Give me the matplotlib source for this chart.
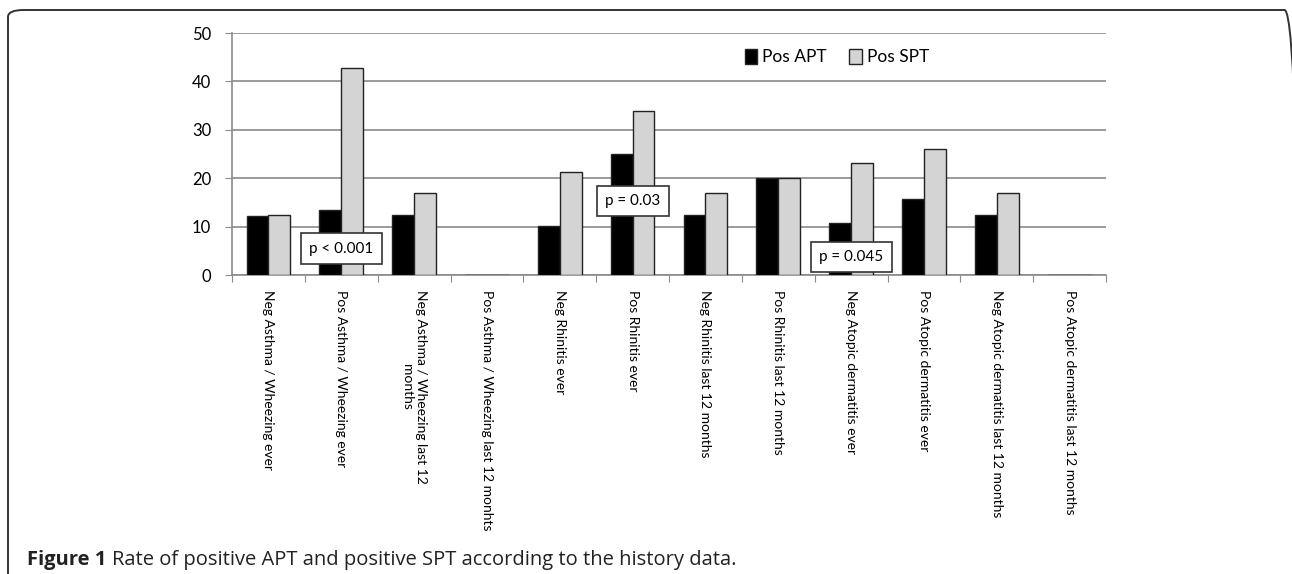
import numpy as np
import matplotlib
matplotlib.use("Agg")
import matplotlib.pyplot as plt
from matplotlib.patches import FancyBboxPatch

# Categories from the history data
categories = [
    "Neg Asthma / Wheezing ever",
    "Pos Asthma / Wheezing ever",
    "Neg Asthma / Wheezing last 12\nmonths",
    "Pos Asthma / Wheezing last 12 monhts",
    "Neg Rhinitis ever",
    "Pos Rhinitis ever",
    "Neg Rhinitis last 12 months",
    "Pos Rhinitis last 12 months",
    "Neg Atopic dermatitis ever",
    "Pos Atopic dermatitis ever",
    "Neg Atopic dermatitis last 12 months",
    "Pos Atopic dermatitis last 12 months",
]
pos_apt = [12.2, 13.4, 12.5, 0, 10.1, 25.1, 12.5, 20.0, 10.7, 15.7, 12.5, 0]
pos_spt = [12.5, 42.8, 17.0, 0, 21.3, 33.8, 17.0, 20.0, 23.1, 26.0, 17.0, 0]

# p-value notes: category index, height, text
p_index = [1, 5, 8]
p_height = [5.4, 15.3, 3.7]
p_text = ["p < 0.001", "p = 0.03", "p = 0.045"]

plt.rcParams['font.family'] = ['Lato', 'DejaVu Sans']

fig = plt.figure(figsize=(12.92, 5.74), dpi=100)
ax = fig.add_axes([0.1796, 0.5209, 0.6765, 0.4216])

x = np.arange(len(categories))
w = 0.3
ax.bar(x - w / 2, pos_apt, w, color='black', edgecolor='#222222', linewidth=1, label='Pos APT', zorder=3)
ax.bar(x + w / 2, pos_spt, w, color='#d4d4d4', edgecolor='#222222', linewidth=1, label='Pos SPT', zorder=3)

ax.set_xlim(-0.5, len(categories) - 0.5)
ax.set_ylim(0, 50)
ax.set_yticks([0, 10, 20, 30, 40, 50])
ax.yaxis.grid(True, color='#8a8a8a', linewidth=1.2, zorder=0)
ax.tick_params(axis='y', labelsize=12, length=5, color='#8a8a8a', pad=10)

# tick marks on category boundaries, labels in the middle
ax.set_xticks(np.arange(len(categories) + 1) - 0.5)
ax.set_xticklabels([])
ax.set_xticks(x, minor=True)
ax.set_xticklabels(categories, minor=True, rotation=-90, fontsize=10,
                   va='top', ha='center', multialignment='center')
ax.tick_params(axis='x', which='major', length=5, color='#8a8a8a')
ax.tick_params(axis='x', which='minor', length=0, pad=11)

for side in ['top', 'right']:
    ax.spines[side].set_visible(False)
for side in ['left', 'bottom']:
    ax.spines[side].set_color('#8a8a8a')
    ax.spines[side].set_linewidth(1.2)

ax.legend(loc='center', bbox_to_anchor=(0.692, 0.90), ncol=2, frameon=False,
          fontsize=12.5, handlelength=0.7, handleheight=0.9, handletextpad=0.3,
          columnspacing=1.3)

for i, h, t in zip(p_index, p_height, p_text):
    ax.text(i, h, t, ha='center', va='center', fontsize=11, zorder=5,
            bbox=dict(boxstyle='square,pad=0.55', facecolor='white', edgecolor='#333333', linewidth=1.2))

# outer frame (rounded, open at the bottom of the crop)
frame = FancyBboxPatch((8 / 1292, -0.05), 1.0, 1.05 - 10 / 574,
                       boxstyle='round,pad=0,rounding_size=0.012',
                       transform=fig.transFigure, facecolor='none', edgecolor='#333333',
                       linewidth=1.4, clip_on=False)
fig.patches.append(frame)

# caption: bold "Figure 1" followed by plain text
cap_y = 1 - 565 / 574
cap_font = ['Open Sans', 'DejaVu Sans']
t1 = fig.text(27 / 1292, cap_y, "Figure 1", fontsize=14.5, fontweight='bold', family=cap_font,
              ha='left', va='baseline', color='#222222')
renderer = fig.canvas.get_renderer()
bb = t1.get_window_extent(renderer=renderer)
fig.text((bb.x1 + 6) / 1292, cap_y, "Rate of positive APT and positive SPT according to the history data.",
         fontsize=14.5, family=cap_font, ha='left', va='baseline', color='#222222')

fig.savefig('out.png', dpi=100)
